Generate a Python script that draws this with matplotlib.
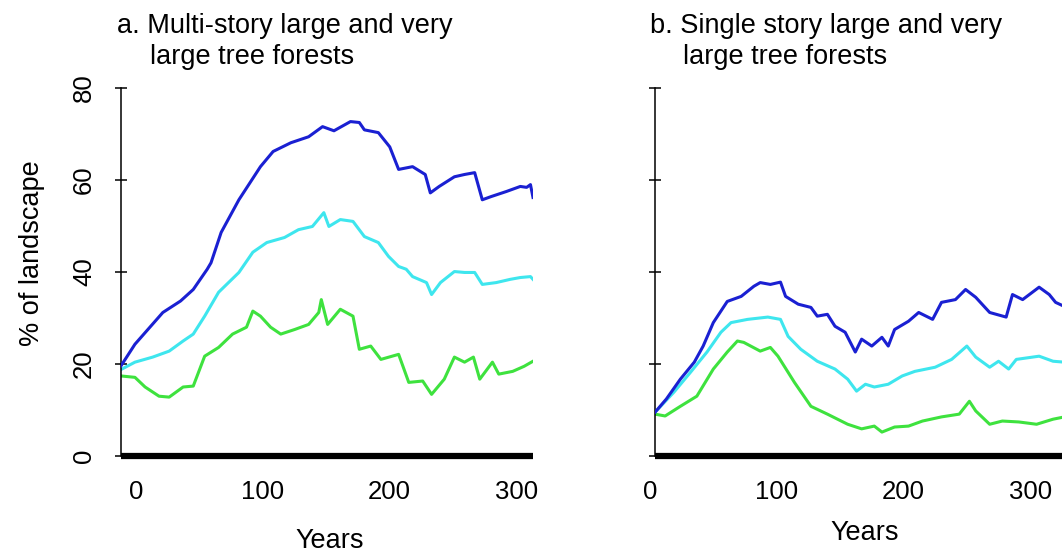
import matplotlib
matplotlib.use("Agg")
import matplotlib.pyplot as plt
import matplotlib.transforms as mtransforms

plt.rcParams['font.family'] = ['Liberation Sans', 'DejaVu Sans']

# values (years, % of landscape)
a_blue_years = [0, 11, 33, 47, 57, 68, 71, 79, 93, 110, 120, 134, 148, 159, 168, 181, 188, 192,
                203, 212, 219, 230, 240, 244, 251, 263, 271, 279, 285, 292, 304, 315, 320, 323, 325]
a_blue = [19.6, 24.3, 31.2, 33.7, 36.2, 40.6, 42.0, 48.6, 55.7, 62.9, 66.2, 68.1, 69.4, 71.6, 70.7,
          72.7, 72.5, 70.9, 70.3, 67.2, 62.3, 62.9, 61.2, 57.2, 58.6, 60.7, 61.2, 61.6, 55.7, 56.4,
          57.5, 58.6, 58.4, 59.0, 56.2]

a_cyan_years = [0, 11, 25, 38, 49, 57, 66, 77, 93, 104, 115, 129, 140, 151, 160, 164, 173, 183,
                192, 203, 211, 219, 225, 230, 241, 245, 252, 263, 271, 279, 285, 296, 307, 315, 323, 325]
a_cyan = [18.8, 20.4, 21.5, 22.8, 25.0, 26.5, 30.4, 35.6, 39.9, 44.3, 46.4, 47.5, 49.2, 49.9, 52.9,
          49.9, 51.4, 51.0, 47.7, 46.4, 43.4, 41.2, 40.6, 39.0, 37.7, 35.1, 37.7, 40.1, 39.9, 39.9,
          37.3, 37.7, 38.4, 38.8, 39.0, 38.4]

a_green_years = [0, 11, 19, 30, 38, 49, 57, 66, 77, 88, 99, 104, 110, 118, 126, 137, 148, 156, 158,
                 163, 173, 183, 188, 197, 205, 219, 227, 238, 245, 255, 263, 271, 278, 283, 293, 298,
                 309, 318, 325]
a_green = [17.4, 17.1, 15.0, 13.0, 12.8, 15.0, 15.2, 21.7, 23.6, 26.5, 28.0, 31.5, 30.4, 28.0, 26.5,
           27.5, 28.6, 31.2, 34.0, 28.6, 31.9, 30.4, 23.2, 23.9, 21.0, 22.1, 16.0, 16.3, 13.4, 16.7,
           21.5, 20.4, 21.5, 16.7, 20.4, 17.8, 18.4, 19.5, 20.6]

b_blue_years = [0, 9, 20, 31, 38, 46, 57, 68, 78, 83, 91, 99, 103, 113, 123, 128, 136, 142, 150,
                158, 163, 171, 179, 184, 189, 200, 208, 219, 226, 237, 245, 253, 264, 277, 282, 290,
                303, 311, 316, 323]
b_blue = [9.5, 12.4, 16.7, 20.4, 23.9, 29.0, 33.6, 34.7, 36.9, 37.7, 37.3, 37.8, 34.7, 33.0, 32.3,
          30.4, 30.8, 28.2, 26.9, 22.6, 25.4, 23.9, 25.8, 23.9, 27.5, 29.3, 31.2, 29.7, 33.4, 34.0,
          36.2, 34.5, 31.2, 30.2, 35.1, 34.0, 36.7, 35.1, 33.4, 32.5]

b_cyan_years = [0, 15, 28, 41, 52, 60, 73, 89, 99, 105, 115, 128, 142, 152, 159, 166, 173, 184,
                195, 205, 221, 234, 246, 253, 264, 271, 279, 285, 303, 314, 323]
b_cyan = [9.5, 13.9, 18.2, 22.6, 26.9, 29.0, 29.7, 30.2, 29.7, 26.0, 23.2, 20.6, 18.9, 16.7, 14.1,
          15.6, 15.0, 15.6, 17.4, 18.4, 19.3, 21.0, 23.9, 21.5, 19.3, 20.6, 18.9, 21.0, 21.7, 20.6, 20.4]

b_green_years = [0, 8, 20, 33, 46, 57, 65, 70, 83, 91, 97, 110, 123, 136, 152, 163, 173, 179, 189,
                 200, 211, 226, 240, 248, 253, 264, 274, 287, 301, 314, 323]
b_green = [9.1, 8.7, 10.8, 13.0, 18.9, 22.6, 25.0, 24.7, 22.8, 23.6, 21.7, 16.0, 10.8, 9.1, 6.9, 5.9,
           6.5, 5.2, 6.3, 6.5, 7.6, 8.5, 9.1, 11.9, 9.8, 6.9, 7.6, 7.4, 6.9, 8.0, 8.5]

x_ticks = [0, 100, 200, 300]
y_ticks = [0, 20, 40, 60, 80]

blue = '#1a20d2'
cyan = '#3ee6ee'
green = '#3ee23e'

W, H = 1062, 557
fig = plt.figure(figsize=(W / 100, H / 100), dpi=100)


def px(x, y):
    return x / W, 1 - y / H


ax_a = fig.add_axes([121 / W, 1 - 456 / H, 412 / W, 368 / H])
ax_b = fig.add_axes([655 / W, 1 - 456 / H, 412 / W, 368 / H])

panels = [
    (ax_a, a_blue_years, a_blue, a_cyan_years, a_cyan, a_green_years, a_green, 15),
    (ax_b, b_blue_years, b_blue, b_cyan_years, b_cyan, b_green_years, b_green, -5),
]

for ax, xb, yb, xc, yc, xg, yg, shift in panels:
    ax.plot(xb, yb, color=blue, lw=2.2, zorder=3)
    ax.plot(xc, yc, color=cyan, lw=2.2, zorder=2)
    ax.plot(xg, yg, color=green, lw=2.2, zorder=2)
    ax.set_xlim(0, 325)
    ax.set_ylim(0, 80)
    for s in ['top', 'right']:
        ax.spines[s].set_visible(False)
    ax.spines['left'].set_linewidth(1.1)
    ax.spines['bottom'].set_linewidth(4.5)
    ax.spines['bottom'].set_capstyle('butt')
    ax.set_xticks(x_ticks)
    ax.set_yticks(y_ticks)
    ax.tick_params(axis='x', length=0, pad=17, labelsize=18.5)
    ax.tick_params(axis='y', direction='inout', length=8, width=1.1, pad=14, labelsize=18.5)
    for lab in ax.get_yticklabels():
        lab.set_rotation(90)
        lab.set_va('center')
    off = mtransforms.ScaledTranslation(shift / 100, 0, fig.dpi_scale_trans)
    for lab in ax.get_xticklabels():
        lab.set_transform(lab.get_transform() + off)
    ax.patch.set_alpha(0)

ax_b.tick_params(axis='y', labelleft=False)
ax_a.set_ylabel('% of landscape', fontsize=19.5)
ax_a.yaxis.set_label_coords(-0.184, 0.552)

fig.text(*px(117, 33), 'a. Multi-story large and very', fontsize=19.5, va='baseline')
fig.text(*px(150, 64), 'large tree forests', fontsize=19.5, va='baseline')
fig.text(*px(650, 33), 'b. Single story large and very', fontsize=19.5, va='baseline')
fig.text(*px(683, 64), 'large tree forests', fontsize=19.5, va='baseline')

fig.text(*px(330, 548), 'Years', fontsize=19.5, ha='center', va='baseline')
fig.text(*px(865, 540), 'Years', fontsize=19.5, ha='center', va='baseline')

fig.savefig('out.png', dpi=100)
